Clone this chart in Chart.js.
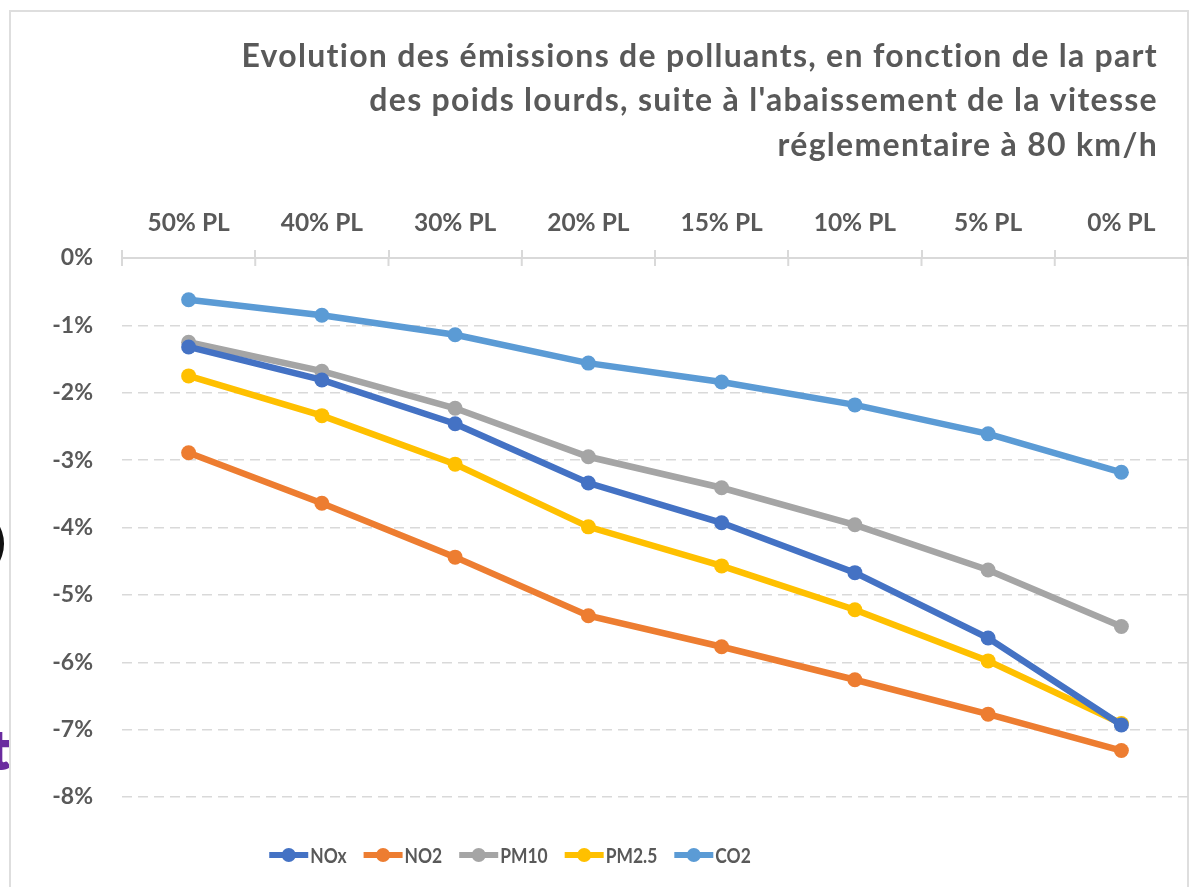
<!DOCTYPE html>
<html>
<head>
<meta charset="utf-8">
<script src="https://cdn.jsdelivr.net/npm/chart.js@4/dist/chart.umd.min.js"></script>
<style>
  html, body { margin:0; padding:0; background:#fff; overflow:hidden; }
  #wrap { position:absolute; left:0; top:0; width:1198px; height:887px; }
  #frame { position:absolute; left:9px; top:10px; width:1180px; height:900px; border:2px solid #dedede; box-sizing:border-box; }
  canvas { position:absolute; left:0; top:0; }
  .art1 { position:absolute; left:-13px; top:514px; font-family:"DejaVu Sans"; font-size:56px; color:#111; line-height:1; }
  .art2 { position:absolute; left:-11px; top:722px; font-family:"Lato"; font-weight:900; font-size:54px; color:#6a2c9f; line-height:1; -webkit-text-stroke:2px #6a2c9f; }
</style>
</head>
<body>
<div id="wrap">
  <div class="art1">)</div>
  <div class="art2">t</div>
  <div id="frame"></div>
  <canvas id="c" width="1198" height="887"></canvas>
</div>
<script>
const categories = ["50% PL", "40% PL", "30% PL", "20% PL", "15% PL", "10% PL", "5% PL", "0% PL"];
const titleLines = [
  "Evolution des émissions de polluants, en fonction de la part",
  "des poids lourds, suite à l'abaissement de la vitesse",
  "réglementaire à 80 km/h"
];
const seriesNames = ["NOx", "NO2", "PM10", "PM2.5", "CO2"];
const nox  = [-1.32, -1.81, -2.46, -3.34, -3.93, -4.67, -5.64, -6.93];
const no2  = [-2.89, -3.64, -4.44, -5.31, -5.77, -6.26, -6.77, -7.31];
const pm10 = [-1.25, -1.68, -2.23, -2.95, -3.41, -3.96, -4.63, -5.47];
const pm25 = [-1.75, -2.34, -3.06, -3.99, -4.57, -5.22, -5.98, -6.91];
const co2  = [-0.62, -0.85, -1.14, -1.56, -1.84, -2.18, -2.61, -3.18];
const yTicks = [0, -1, -2, -3, -4, -5, -6, -7, -8];

const colors = ["#4472C4", "#ED7D31", "#A5A5A5", "#FFC000", "#5B9BD5"];
const seriesData = [nox, no2, pm10, pm25, co2];
const TEXT = "#595959";
const FONT = "Lato, 'Open Sans', sans-serif";

const datasets = seriesNames.map((n, i) => ({
  label: n,
  data: seriesData[i],
  borderColor: colors[i],
  backgroundColor: colors[i],
  borderWidth: 6.5,
  pointRadius: 7.5,
  pointHoverRadius: 7.5,
  pointBorderWidth: 0,
  tension: 0,
  fill: false
}));

const titlePlugin = {
  id: 'rightTitle',
  afterDraw(chart) {
    const ctx = chart.ctx;
    ctx.save();
    ctx.font = "bold 32px " + FONT;
    try { ctx.letterSpacing = "1.3px"; } catch (e) {}
    ctx.fillStyle = TEXT;
    ctx.textAlign = 'right';
    ctx.textBaseline = 'middle';
    const ys = [57, 101, 146];
    titleLines.forEach((t, i) => ctx.fillText(t, 1158, ys[i]));
    ctx.restore();
  }
};

const legendPlugin = {
  id: 'lineLegend',
  afterDraw(chart) {
    const ctx = chart.ctx;
    ctx.save();
    ctx.font = "bold 21px " + FONT;
    ctx.textBaseline = 'middle';
    ctx.textAlign = 'left';
    const sx = 0.83;
    const lineW = 39, gapText = 2, gapItem = 17;
    const items = chart.data.datasets.map(d => ({label: d.label, color: d.borderColor, tw: ctx.measureText(d.label).width * sx}));
    items.forEach(it => it.w = lineW + gapText + it.tw);
    const total = items.reduce((s, it) => s + it.w, 0) + gapItem * (items.length - 1);
    let x = 510 - total / 2;
    const y = 855;
    items.forEach(it => {
      ctx.strokeStyle = it.color;
      ctx.lineWidth = 6;
      ctx.beginPath(); ctx.moveTo(x, y); ctx.lineTo(x + lineW, y); ctx.stroke();
      ctx.fillStyle = it.color;
      ctx.beginPath(); ctx.arc(x + lineW / 2, y, 7, 0, Math.PI * 2); ctx.fill();
      ctx.fillStyle = TEXT;
      ctx.save();
      ctx.translate(x + lineW + gapText, y + 1);
      ctx.scale(sx, 1);
      ctx.fillText(it.label, 0, 0);
      ctx.restore();
      x += it.w + gapItem;
    });
    ctx.restore();
  }
};

const tickCross = {
  id: 'tickCross',
  afterDraw(chart) {
    const xs = chart.scales.x;
    const ctx = chart.ctx;
    ctx.save();
    ctx.strokeStyle = "#d9d9d9";
    ctx.lineWidth = 2;
    const top = chart.chartArea.top;
    const n = xs.ticks.length;
    for (let i = 0; i <= n; i++) {
      const px = xs.left + (xs.right - xs.left) * i / n;
      ctx.beginPath(); ctx.moveTo(px, top); ctx.lineTo(px, top + 8); ctx.stroke();
    }
    ctx.restore();
  }
};

new Chart(document.getElementById('c'), {
  type: 'line',
  data: { labels: categories, datasets: datasets },
  options: {
    responsive: false,
    animation: false,
    layout: { padding: { top: 0, right: 10, bottom: 90, left: 0 } },
    plugins: {
      legend: { display: false },
      title: { display: false },
      tooltip: { enabled: false }
    },
    scales: {
      x: {
        position: 'top',
        offset: true,
        grid: { offset: true, drawOnChartArea: false, drawTicks: true, tickLength: 8, color: "#d9d9d9", lineWidth: 2 },
        border: { display: true, color: "#d9d9d9", width: 2 },
        ticks: { color: TEXT, font: { family: FONT, size: 24.5, weight: 'bold' }, padding: 12, maxRotation: 0 },
        afterFit(s) { s.height = 258; }
      },
      y: {
        min: -8, max: 0,
        afterBuildTicks(s) { s.ticks = yTicks.map(v => ({ value: v })); },
        grid: { color: "#d9d9d9", lineWidth: 1.5, drawTicks: false },
        border: { display: false, dash: [10, 6] },
        ticks: { color: TEXT, font: { family: FONT, size: 23, weight: 'bold' }, padding: 29, callback: v => v + '%' },
        afterFit(s) { s.width = 122; }
      }
    }
  },
  plugins: [titlePlugin, legendPlugin, tickCross]
});
</script>
</body>
</html>
